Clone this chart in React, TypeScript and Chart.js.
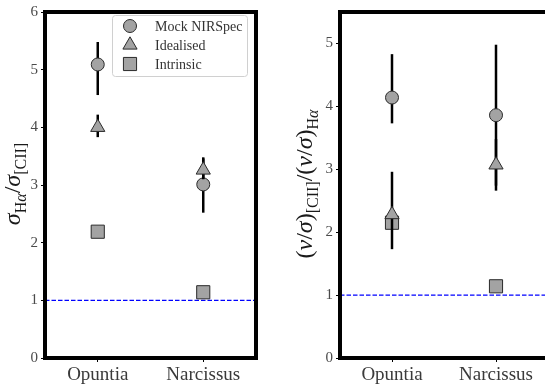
import React, { useEffect, useRef } from 'react';
import { Chart, registerables } from 'chart.js';
Chart.register(...registerables);

const categories = ['Opuntia', 'Narcissus'];
const seriesNames = ['Mock NIRSpec', 'Idealised', 'Intrinsic'];
const markerStyles = ['circle', 'triangle', 'rect'];

// Left panel: sigma_Halpha / sigma_[CII]
const sigmaMock = [5.09, 3.01];
const sigmaMockLow = [4.56, 2.52];
const sigmaMockHigh = [5.48, 3.48];
const sigmaIdeal = [4.0, 3.26];
const sigmaIdealLow = [3.83, 3.1];
const sigmaIdealHigh = [4.22, 3.46];
const sigmaIntrinsic = [2.19, 1.14];

// Right panel: (v/sigma)_[CII] / (v/sigma)_Halpha
const vsMock = [4.14, 3.86];
const vsMockLow = [3.73, 2.74];
const vsMockHigh = [4.83, 4.98];
const vsIdeal = [2.28, 3.07];
const vsIdealLow = [1.73, 2.66];
const vsIdealHigh = [2.96, 3.48];
const vsIntrinsic = [2.15, 1.14];

const sigmaTicks = [0, 1, 2, 3, 4, 5, 6];
const vsTicks = [0, 1, 2, 3, 4, 5];
const referenceLine = 1;

const MARKER_FILL = '#a3a3a3';
const MARKER_EDGE = '#2a2a2a';
const SERIF = '"Liberation Serif", "Times New Roman", serif';
const radii: Record<string, number> = { circle: 6.5, triangle: 8.2, rect: 9.3 };

type Seg = { t: string; it?: boolean; sub?: boolean };

function drawMarker(ctx: CanvasRenderingContext2D, style: string, x: number, y: number) {
  const r = radii[style];
  ctx.beginPath();
  if (style === 'circle') {
    ctx.arc(x, y, r, 0, Math.PI * 2);
  } else if (style === 'triangle') {
    let a = 0;
    ctx.moveTo(x + Math.sin(a) * r, y - Math.cos(a) * r);
    a += (Math.PI * 2) / 3;
    ctx.lineTo(x + Math.sin(a) * r, y - Math.cos(a) * r);
    a += (Math.PI * 2) / 3;
    ctx.lineTo(x + Math.sin(a) * r, y - Math.cos(a) * r);
    ctx.closePath();
  } else {
    const s = Math.SQRT1_2 * r;
    ctx.rect(x - s, y - s, 2 * s, 2 * s);
  }
  ctx.fillStyle = MARKER_FILL;
  ctx.strokeStyle = MARKER_EDGE;
  ctx.lineWidth = 1;
  ctx.fill();
  ctx.stroke();
}

function drawVerticalRich(ctx: CanvasRenderingContext2D, segs: Seg[], baseX: number, cy: number, main: number, sub: number) {
  ctx.save();
  const fontOf = (s: Seg) => `${s.it ? 'italic ' : ''}${s.sub ? sub : main}px ${SERIF}`;
  let total = 0;
  const widths = segs.map((s) => {
    ctx.font = fontOf(s);
    const w = ctx.measureText(s.t).width;
    total += w;
    return w;
  });
  ctx.translate(baseX, cy);
  ctx.rotate(-Math.PI / 2);
  ctx.fillStyle = '#1a1a1a';
  ctx.textBaseline = 'alphabetic';
  ctx.textAlign = 'left';
  let x = -total / 2;
  segs.forEach((s, i) => {
    ctx.font = fontOf(s);
    ctx.fillText(s.t, x, s.sub ? main * 0.25 : 0);
    x += widths[i];
  });
  ctx.restore();
}

const leftTitle: Seg[] = [
  { t: 'σ', it: true },
  { t: 'H', sub: true },
  { t: 'α', sub: true, it: true },
  { t: '/' },
  { t: 'σ', it: true },
  { t: '[CII]', sub: true },
];
const rightTitle: Seg[] = [
  { t: '(' },
  { t: 'v', it: true },
  { t: '/' },
  { t: 'σ', it: true },
  { t: ')' },
  { t: '[CII]', sub: true },
  { t: '/' },
  { t: '(' },
  { t: 'v', it: true },
  { t: '/' },
  { t: 'σ', it: true },
  { t: ')' },
  { t: 'H', sub: true },
  { t: 'α', sub: true, it: true },
];

const errorBarPlugin = {
  id: 'errorBars',
  beforeDatasetDraw(chart: any, args: any) {
    const ds = chart.data.datasets[args.index];
    if (!ds.errLow) return;
    const ctx = chart.ctx;
    const y = chart.scales.y;
    ctx.save();
    ctx.strokeStyle = '#000';
    ctx.lineWidth = 2.5;
    args.meta.data.forEach((pt: any, i: number) => {
      ctx.beginPath();
      ctx.moveTo(pt.x, y.getPixelForValue(ds.errLow[i]));
      ctx.lineTo(pt.x, y.getPixelForValue(ds.errHigh[i]));
      ctx.stroke();
    });
    ctx.restore();
  },
};

const decorPlugin = {
  id: 'decor',
  beforeDatasetsDraw(chart: any) {
    const { ctx, chartArea } = chart;
    const yp = chart.scales.y.getPixelForValue(referenceLine);
    ctx.save();
    ctx.strokeStyle = '#0000ff';
    ctx.lineWidth = 1.3;
    ctx.setLineDash([4.5, 2]);
    ctx.beginPath();
    ctx.moveTo(chartArea.left, yp);
    ctx.lineTo(chartArea.right, yp);
    ctx.stroke();
    ctx.restore();
  },
  afterDraw(chart: any, _a: any, opts: any) {
    const { ctx, chartArea } = chart;
    ctx.save();
    ctx.strokeStyle = '#000';
    ctx.lineWidth = 4;
    ctx.strokeRect(chartArea.left, chartArea.top, chartArea.right - chartArea.left, chartArea.bottom - chartArea.top);
    ctx.restore();
    if (opts.title) drawVerticalRich(ctx, opts.title, opts.titleX, opts.titleY, 24, 16);
    if (opts.legend) {
      const lx = 112, ly = 15, lw = 135, lh = 61;
      ctx.save();
      ctx.beginPath();
      ctx.roundRect(lx + 0.5, ly + 0.5, lw, lh, 3);
      ctx.fillStyle = 'rgba(255,255,255,0.85)';
      ctx.fill();
      ctx.strokeStyle = '#d0d0d0';
      ctx.lineWidth = 1;
      ctx.stroke();
      seriesNames.forEach((name, i) => {
        const yy = 26 + i * 19;
        drawMarker(ctx, markerStyles[i], 130, yy);
        ctx.fillStyle = '#333';
        ctx.font = `14px ${SERIF}`;
        ctx.textBaseline = 'middle';
        ctx.textAlign = 'left';
        ctx.fillText(name, 155, yy + 1);
      });
      ctx.restore();
    }
  },
};

function makeConfig(
  mock: number[], mockLo: number[], mockHi: number[],
  ideal: number[], idealLo: number[], idealHi: number[],
  intrinsic: number[], yMax: number, ticks: number[],
  yWidth: number, padRight: number, title: Seg[], titleX: number, legend: boolean
): any {
  const base = (i: number) => ({
    label: seriesNames[i],
    showLine: false,
    pointStyle: markerStyles[i],
    pointRadius: radii[markerStyles[i]],
    pointHoverRadius: radii[markerStyles[i]],
    pointBackgroundColor: MARKER_FILL,
    pointBorderColor: MARKER_EDGE,
    pointBorderWidth: 1,
    borderColor: MARKER_EDGE,
    backgroundColor: MARKER_FILL,
  });
  return {
    type: 'line',
    data: {
      labels: categories,
      datasets: [
        { ...base(0), data: mock, errLow: mockLo, errHigh: mockHi, order: 2 },
        { ...base(1), data: ideal, errLow: idealLo, errHigh: idealHi, order: 1 },
        { ...base(2), data: intrinsic, order: 3 },
      ],
    },
    options: {
      responsive: false,
      animation: false,
      events: [],
      layout: { padding: { top: 10, right: padRight, left: 0, bottom: 0 } },
      plugins: {
        legend: { display: false },
        tooltip: { enabled: false },
        decor: { title, titleX, titleY: 184, legend },
      },
      scales: {
        x: {
          type: 'category',
          offset: true,
          grid: { display: true, drawOnChartArea: false, drawTicks: true, tickLength: 4, tickColor: '#000', offset: false },
          border: { display: false },
          ticks: { color: '#3a3a3a', font: { family: SERIF, size: 19 }, padding: 2 },
          afterFit(s: any) { s.height = 27; },
        },
        y: {
          min: 0,
          max: yMax,
          grid: { display: true, drawOnChartArea: false, drawTicks: true, tickLength: 4, tickColor: '#000' },
          border: { display: false },
          ticks: { color: '#4a4a4a', font: { family: SERIF, size: 15 }, padding: 3 },
          afterBuildTicks(s: any) { s.ticks = ticks.map((v) => ({ value: v })); },
          afterFit(s: any) { s.width = yWidth; },
        },
      },
    },
    plugins: [errorBarPlugin, decorPlugin],
  };
}

export default function App() {
  const leftRef = useRef<HTMLCanvasElement>(null);
  const rightRef = useRef<HTMLCanvasElement>(null);

  useEffect(() => {
    const c1 = new Chart(leftRef.current!, makeConfig(
      sigmaMock, sigmaMockLow, sigmaMockHigh,
      sigmaIdeal, sigmaIdealLow, sigmaIdealHigh,
      sigmaIntrinsic, 6, sigmaTicks, 45, 14, leftTitle, 20, true));
    const c2 = new Chart(rightRef.current!, makeConfig(
      vsMock, vsMockLow, vsMockHigh,
      vsIdeal, vsIdealLow, vsIdealHigh,
      vsIntrinsic, 5.5, vsTicks, 65, 17, rightTitle, 37, false));
    return () => { c1.destroy(); c2.destroy(); };
  }, []);

  return (
    <div style={{ position: 'absolute', left: 0, top: 0, width: 545, height: 385, overflow: 'hidden', background: '#fff' }}>
      <canvas ref={leftRef} width={270} height={385} style={{ position: 'absolute', left: 0, top: 0 }} />
      <canvas ref={rightRef} width={290} height={385} style={{ position: 'absolute', left: 275, top: 0 }} />
    </div>
  );
}
